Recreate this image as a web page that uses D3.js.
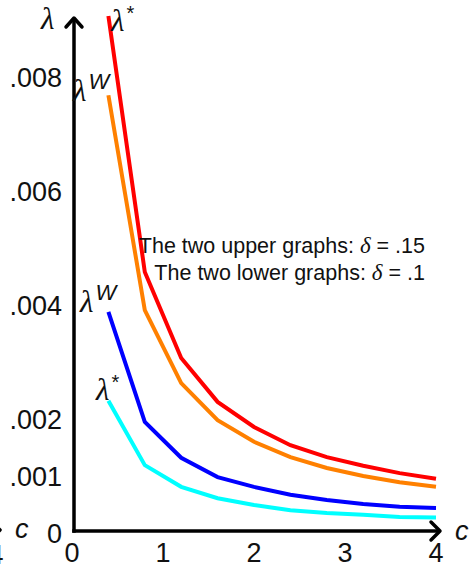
<!DOCTYPE html>
<html lang="en">
<head>
    <meta charset="utf-8">
    <title>lambda vs c</title>
    <style>
        body { margin: 0; background: #fff; }
        svg { display: block; }
        .tick-label { font-family: "Liberation Sans", sans-serif; font-size: 27px; fill: #111; }
        .legend { font-family: "Liberation Sans", sans-serif; font-size: 21.5px; fill: #111; }
        .math { font-family: "Liberation Serif", serif; font-style: italic; fill: #111; }
    </style>
</head>
<body>
<script src="https://d3js.org/d3.v7.min.js"></script>
<script>
// valori di c (asse x)
const cValues = [0.4, 0.8, 1.2, 1.6, 2.0, 2.4, 2.8, 3.2, 3.6, 4.0];

// curve (valori in unità di .001)
const upperStar = [9.07, 4.58, 3.07, 2.30, 1.86, 1.54, 1.33, 1.18, 1.05, 0.95];
const upperW    = [7.68, 3.91, 2.63, 1.98, 1.60, 1.33, 1.14, 1.00, 0.89, 0.81];
const lowerW    = [3.88, 1.95, 1.32, 0.98, 0.81, 0.67, 0.58, 0.51, 0.46, 0.44];
const lowerStar = [2.32, 1.19, 0.81, 0.61, 0.49, 0.40, 0.35, 0.32, 0.28, 0.27];

// etichette degli assi
const xTicks = [0, 1, 2, 3, 4];
const yTicks = [0, 0.001, 0.002, 0.004, 0.006, 0.008];
const yTickText = ["0", ".001", ".002", ".004", ".006", ".008"];

const legendLines = [
    { text: "The two upper graphs: ", delta: ".15" },
    { text: "The two lower graphs: ", delta: ".1" }
];

const series = [
    { values: upperStar, color: "#ff0000", label: "*" },
    { values: upperW,    color: "#ff8000", label: "W" },
    { values: lowerW,    color: "#0000ff", label: "W" },
    { values: lowerStar, color: "#00ffff", label: "*" }
];

const width = 469;
const height = 564;

const x = d3.scaleLinear().domain([0, 4]).range([72, 436]);
const y = d3.scaleLinear().domain([0, 0.008]).range([533, 77]);

const svg = d3.select("body").append("svg")
    .attr("width", width)
    .attr("height", height);

// linee
const line = d3.line()
    .x(d => x(d.c))
    .y(d => y(d.v * 0.001));

svg.append("g")
    .selectAll("path")
    .data(series)
    .join("path")
    .attr("fill", "none")
    .attr("stroke", d => d.color)
    .attr("stroke-width", 4)
    .attr("d", d => line(d.values.map((v, i) => ({ c: cValues[i], v }))));

// assi con frecce
const axisY = 531;
const axisX = 74;
const axes = svg.append("g")
    .attr("fill", "none")
    .attr("stroke", "#000")
    .attr("stroke-width", 3.5);

axes.append("line")
    .attr("x1", axisX - 1.75).attr("y1", axisY)
    .attr("x2", 439).attr("y2", axisY);
axes.append("path")
    .attr("stroke-linejoin", "round")
    .attr("stroke-linecap", "round")
    .attr("d", `M431,${axisY - 9}L440,${axisY}L431,${axisY + 9}`);

axes.append("line")
    .attr("x1", axisX).attr("y1", axisY + 1.75)
    .attr("x2", axisX).attr("y2", 19);
axes.append("path")
    .attr("stroke-linejoin", "round")
    .attr("stroke-linecap", "round")
    .attr("d", `M${axisX - 8},27L${axisX},18L${axisX + 8},27`);

// frammento del grafico precedente (bordo sinistro)
axes.append("path")
    .attr("stroke-linejoin", "round")
    .attr("stroke-linecap", "round")
    .attr("d", `M-9,521L0,530L-9,539`);

// tick asse x
svg.append("g")
    .selectAll("text")
    .data(xTicks)
    .join("text")
    .attr("class", "tick-label")
    .attr("text-anchor", "middle")
    .attr("x", d => x(d))
    .attr("y", 562)
    .text(d => d);

svg.append("text")
    .attr("class", "tick-label")
    .attr("text-anchor", "middle")
    .attr("x", -4)
    .attr("y", 564)
    .text("4");

// tick asse y
svg.append("g")
    .selectAll("text")
    .data(yTicks)
    .join("text")
    .attr("class", "tick-label")
    .attr("text-anchor", "end")
    .attr("x", 62)
    .attr("y", d => y(d) + 10)
    .text((d, i) => yTickText[i]);

// nomi degli assi
svg.append("text")
    .attr("class", "tick-label")
    .attr("font-style", "italic")
    .attr("x", 455).attr("y", 540)
    .text("c");
svg.append("text")
    .attr("class", "tick-label")
    .attr("font-style", "italic")
    .attr("x", 15).attr("y", 538)
    .text("c");
svg.append("text")
    .attr("class", "math")
    .attr("font-size", 31)
    .attr("x", 41).attr("y", 29)
    .text("λ");

// etichette delle curve
const labelPos = [
    { x: 111, y: 31 },
    { x: 73, y: 101 },
    { x: 80, y: 312 },
    { x: 96, y: 400 }
];
series.forEach((s, i) => {
    const t = svg.append("text")
        .attr("class", "math")
        .attr("font-size", 31)
        .attr("x", labelPos[i].x)
        .attr("y", labelPos[i].y);
    t.append("tspan").text("λ");
    t.append("tspan")
        .attr("font-family", "Liberation Sans, sans-serif")
        .attr("font-style", s.label === "*" ? "normal" : "italic")
        .attr("font-size", s.label === "*" ? 20 : 22)
        .attr("dx", 2)
        .attr("dy", s.label === "*" ? -11 : -12)
        .text(s.label);
});

// legenda
const legend = svg.append("g");
legendLines.forEach((l, i) => {
    const t = legend.append("text")
        .attr("class", "legend")
        .attr("text-anchor", "end")
        .attr("x", 425)
        .attr("y", 253 + i * 27);
    t.append("tspan").text(l.text);
    t.append("tspan").attr("class", "math").attr("font-size", 23).text("δ");
    t.append("tspan").text(" = " + l.delta);
});
</script>
</body>
</html>
